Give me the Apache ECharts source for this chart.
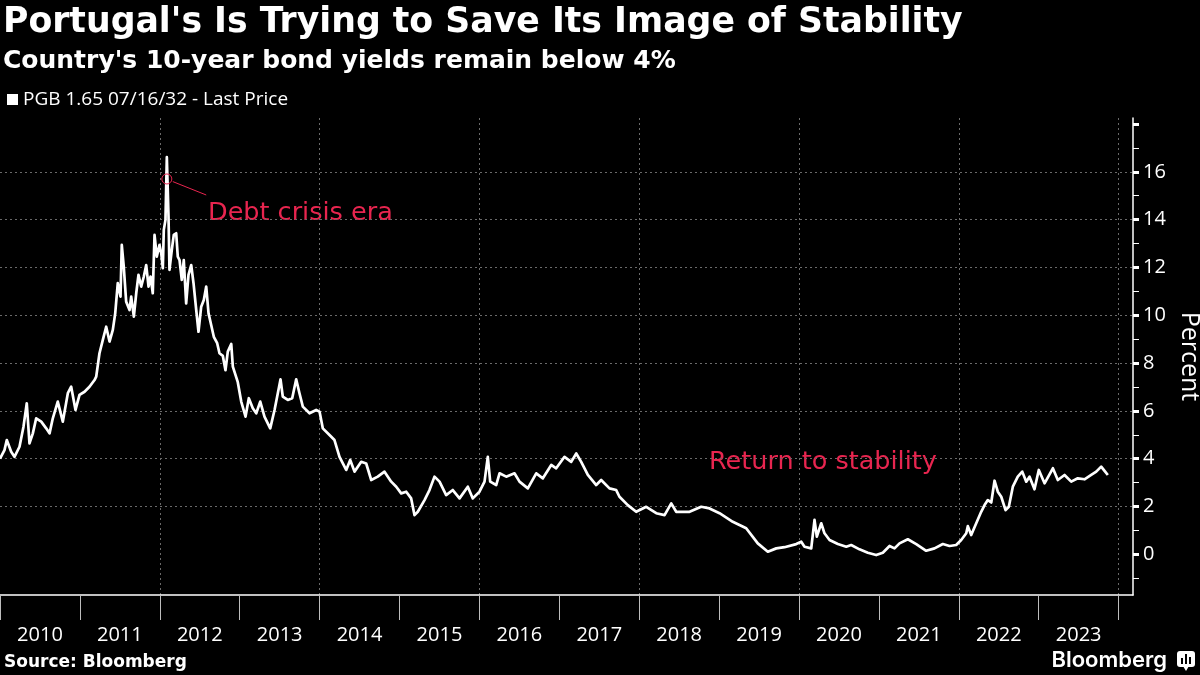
<!DOCTYPE html>
<html>
<head>
<meta charset="utf-8">
<script src="https://cdn.jsdelivr.net/npm/echarts@6.0.0/dist/echarts.min.js"></script>
<style>
html,body{margin:0;padding:0;background:#000;}
#chart{width:1200px;height:675px;}
</style>
</head>
<body>
<div id="chart"></div>
<script>
// Decimal-year dates of the readings
const dates = [
2010.000,2010.056,2010.085,2010.140,2010.181,2010.244,2010.294,2010.335,2010.369,2010.411,
2010.453,2010.516,2010.578,2010.620,2010.661,2010.723,2010.786,2010.849,2010.891,2010.945,
2010.995,2011.058,2011.120,2011.183,2011.204,2011.245,2011.287,2011.329,2011.371,2011.412,
2011.442,2011.474,2011.508,2011.524,2011.549,2011.579,2011.621,2011.642,2011.675,2011.705,
2011.733,2011.767,2011.800,2011.830,2011.859,2011.884,2011.912,2011.934,2011.962,2011.996,
2012.018,2012.038,2012.050,2012.071,2012.088,2012.109,2012.121,2012.150,2012.175,2012.205,
2012.225,2012.247,2012.275,2012.300,2012.330,2012.359,2012.393,2012.422,2012.456,2012.484,
2012.518,2012.551,2012.581,2012.610,2012.643,2012.676,2012.718,2012.747,2012.789,2012.822,
2012.851,2012.872,2012.894,2012.914,2012.976,2013.019,2013.073,2013.114,2013.164,2013.207,
2013.257,2013.310,2013.382,2013.436,2013.477,2013.511,2013.539,2013.602,2013.657,2013.707,
2013.748,2013.790,2013.874,2013.957,2013.999,2014.040,2014.124,2014.186,2014.249,2014.333,
2014.383,2014.437,2014.521,2014.583,2014.646,2014.728,2014.812,2014.896,2014.959,2015.021,
2015.084,2015.146,2015.188,2015.229,2015.250,2015.313,2015.375,2015.438,2015.501,2015.584,
2015.667,2015.751,2015.855,2015.917,2016.001,2016.064,2016.105,2016.135,2016.210,2016.252,
2016.335,2016.439,2016.502,2016.606,2016.711,2016.794,2016.899,2016.961,2017.065,2017.149,
2017.212,2017.274,2017.357,2017.462,2017.524,2017.628,2017.712,2017.753,2017.857,2017.962,
2018.088,2018.213,2018.317,2018.401,2018.463,2018.630,2018.776,2018.880,2019.005,2019.171,
2019.339,2019.484,2019.610,2019.715,2019.819,2019.965,2020.028,2020.069,2020.153,2020.194,
2020.223,2020.278,2020.319,2020.382,2020.486,2020.591,2020.653,2020.757,2020.861,2020.966,
2021.049,2021.133,2021.195,2021.258,2021.362,2021.467,2021.592,2021.696,2021.800,2021.884,
2021.967,2022.030,2022.093,2022.113,2022.155,2022.218,2022.280,2022.322,2022.363,2022.406,
2022.447,2022.488,2022.531,2022.585,2022.626,2022.676,2022.738,2022.794,2022.844,2022.885,
2022.947,2023.001,2023.073,2023.177,2023.239,2023.323,2023.407,2023.489,2023.573,2023.657,
2023.720,2023.782,2023.824,2023.865
];
// PGB 1.65 07/16/32 - Last Price (yield, percent)
const yields = [
4.00,4.36,4.78,4.29,4.08,4.50,5.34,6.32,4.64,5.06,
5.69,5.55,5.27,5.06,5.69,6.39,5.55,6.74,7.01,6.04,
6.67,6.80,7.01,7.29,7.43,8.41,8.97,9.52,8.90,9.39,
10.08,11.34,10.78,12.94,12.03,10.57,10.22,10.78,9.94,10.92,
11.69,11.20,11.62,12.10,11.20,11.62,10.92,13.36,12.45,12.94,
12.59,11.97,13.57,13.99,16.61,14.13,11.90,12.73,13.36,13.43,
12.45,12.31,11.48,12.31,10.50,11.69,12.10,11.34,10.22,9.31,
10.36,10.64,11.20,10.08,9.59,9.10,8.83,8.41,8.30,7.70,
8.48,8.55,8.80,7.85,7.20,6.39,5.76,6.53,6.11,5.90,
6.39,5.76,5.27,6.04,6.74,7.32,6.60,6.46,6.53,7.32,
6.74,6.18,5.90,6.04,5.97,5.27,4.99,4.78,4.08,3.53,
3.95,3.46,3.87,3.80,3.11,3.25,3.46,3.04,2.83,2.55,
2.62,2.34,1.64,1.78,1.72,2.27,2.69,3.25,3.04,2.48,
2.69,2.34,2.83,2.34,2.62,3.04,4.08,3.04,2.90,3.39,
3.25,3.39,3.04,2.76,3.39,3.18,3.74,3.60,4.08,3.87,
4.22,3.87,3.32,2.90,3.11,2.76,2.69,2.41,2.06,1.78,
1.99,1.72,1.64,2.13,1.78,1.78,1.99,1.92,1.72,1.36,
1.09,0.46,0.11,0.25,0.30,0.43,0.53,0.32,0.25,1.44,
0.74,1.30,0.88,0.60,0.43,0.32,0.39,0.21,0.07,-0.03,
0.07,0.35,0.25,0.46,0.63,0.43,0.15,0.25,0.43,0.35,
0.39,0.60,0.88,1.18,0.81,1.30,1.78,2.06,2.27,2.17,
3.08,2.62,2.41,1.85,1.99,2.83,3.25,3.46,3.04,3.25,
2.72,3.53,2.97,3.60,3.11,3.32,3.04,3.18,3.14,3.32,
3.46,3.67,3.49,3.32
];
const yearTicks = [2010,2011,2012,2013,2014,2015,2016,2017,2018,2019,2020,2021,2022,2023,2024];
const yearLabels = [2010,2011,2012,2013,2014,2015,2016,2017,2018,2019,2020,2021,2022,2023];
const yLabelValues = [0,2,4,6,8,10,12,14,16];
const yMajorTicks = [0,2,4,6,8,10,12,14,16,18];
const yMinorTicks = [-1,1,3,5,7,9,11,13,15,17];
const seriesName = 'PGB 1.65 07/16/32 - Last Price';
const peakMarker = [2012.088, 15.7];
const peakLeader = [[2012.163, 15.59], [2012.581, 15.03]];

const RED = '#e8254f';
const data = dates.map((d, i) => [d, yields[i]]);
const labelCenters = yearLabels.map(y => y + 0.5);

const chart = echarts.init(document.getElementById('chart'), null, {renderer: 'canvas'});
chart.setOption({
  backgroundColor: '#000',
  animation: false,
  textStyle: {fontFamily: '"Open Sans", sans-serif'},
  legend: {
    left: 7, top: 90, padding: 0,
    icon: 'rect', itemWidth: 11, itemHeight: 11,
    textStyle: {color: '#fff', fontSize: 19, fontFamily: '"Open Sans", sans-serif'},
    data: [{name: seriesName, itemStyle: {color: '#fff'}}]
  },
  grid: {left: 0, right: 67, top: 118, bottom: 80, containLabel: false, outerBoundsMode: 'none'},
  xAxis: [{
    type: 'value', min: 2010, max: 2024.18, interval: 1, position: 'bottom',
    axisLine: {show: true, onZero: false, lineStyle: {color: '#fff', width: 1.5}},
    axisTick: {show: true, length: 25, customValues: yearTicks, lineStyle: {color: '#bdbdbd', width: 1}},
    axisLabel: {
      show: true, customValues: labelCenters, color: '#fff', fontSize: 20, margin: 30,
      fontFamily: '"Open Sans", sans-serif',
      formatter: v => String(Math.floor(v))
    },
    splitLine: {show: false}
  }, {
    type: 'value', min: 2010, max: 2024.18, interval: 2, position: 'bottom',
    axisLine: {show: false, onZero: false}, axisTick: {show: false}, axisLabel: {show: false},
    splitLine: {show: true, showMinLine: false, showMaxLine: false, lineStyle: {color: '#6a6a6a', type: [2, 3], width: 1}}
  }],
  yAxis: [{
    type: 'value', min: -1.7, max: 18.25, interval: 2, position: 'right',
    name: 'Percent', nameLocation: 'middle', nameRotate: -90, nameGap: 34,
    nameTextStyle: {color: '#fff', fontSize: 25, fontFamily: '"Open Sans", sans-serif'},
    axisLine: {show: true, onZero: false, lineStyle: {color: '#fff', width: 1.5}},
    axisTick: {show: true, length: 6, customValues: yMajorTicks, lineStyle: {color: '#fff', width: 3}},
    axisLabel: {
      show: true, customValues: yLabelValues, color: '#fff', fontSize: 20, margin: 10,
      fontFamily: '"Open Sans", sans-serif',
      formatter: v => (Number.isInteger(v) && v % 2 === 0 && v >= 0 && v <= 16) ? String(v) : ''
    },
    splitLine: {show: true, showMinLine: false, showMaxLine: false, lineStyle: {color: '#6a6a6a', type: [2, 3], width: 1}}
  }, {
    type: 'value', min: -1.7, max: 18.25, interval: 1, position: 'right',
    axisLine: {show: false, onZero: false},
    axisTick: {show: true, length: 6, customValues: yMinorTicks, lineStyle: {color: '#fff', width: 1}},
    axisLabel: {show: false}, splitLine: {show: false}
  }],
  series: [{
    name: seriesName, type: 'line', xAxisIndex: 0, yAxisIndex: 0,
    data: data, showSymbol: false, symbol: 'none', smooth: false,
    lineStyle: {color: '#fff', width: 2.7, join: 'round'},
    itemStyle: {color: '#fff'},
    markPoint: {
      silent: true, symbol: 'circle', symbolSize: 10,
      itemStyle: {color: 'rgba(0,0,0,0)', borderColor: RED, borderWidth: 1},
      label: {show: false},
      data: [{coord: peakMarker}]
    },
    markLine: {
      silent: true, symbol: ['none', 'none'],
      lineStyle: {color: RED, width: 1, type: 'solid'},
      label: {show: false},
      data: [[{coord: peakLeader[0]}, {coord: peakLeader[1]}]]
    }
  }],
  graphic: [
    {type: 'text', x: 3, y: 23, silent: true, style: {text: "Portugal's Is Trying to Save Its Image of Stability", fill: '#fff', font: 'bold 34.7px "DejaVu Sans"', textAlign: 'left', verticalAlign: 'middle'}},
    {type: 'text', x: 3, y: 61, silent: true, style: {text: "Country's 10-year bond yields remain below 4%", fill: '#fff', font: 'bold 25px "DejaVu Sans"', textAlign: 'left', verticalAlign: 'middle'}},
    {type: 'text', x: 208, y: 213, silent: true, style: {text: 'Debt crisis era', fill: RED, font: '25.5px "DejaVu Sans"', textAlign: 'left', verticalAlign: 'middle'}},
    {type: 'text', x: 709, y: 462, silent: true, style: {text: 'Return to stability', fill: RED, font: '25.5px "DejaVu Sans"', textAlign: 'left', verticalAlign: 'middle'}},
    {type: 'text', x: 4, y: 663, silent: true, style: {text: 'Source: Bloomberg', fill: '#fff', font: 'bold 17px "DejaVu Sans"', textAlign: 'left', verticalAlign: 'middle'}},
    {type: 'text', x: 1167, y: 660, silent: true, style: {text: 'Bloomberg', fill: '#fff', font: '600 22px Inter', textAlign: 'right', verticalAlign: 'middle'}},
    {type: 'group', x: 1177, y: 651, silent: true, children: [
      {type: 'rect', shape: {x: 0, y: 0, width: 18, height: 16, r: 3}, style: {fill: '#fff'}},
      {type: 'polygon', shape: {points: [[6, 15], [12, 15], [9, 20]]}, style: {fill: '#fff'}},
      {type: 'rect', shape: {x: 4, y: 7, width: 2, height: 6}, style: {fill: '#000'}},
      {type: 'rect', shape: {x: 8, y: 3, width: 2, height: 10}, style: {fill: '#000'}},
      {type: 'rect', shape: {x: 12, y: 6, width: 2, height: 7}, style: {fill: '#000'}}
    ]}
  ]
});
</script>
</body>
</html>
